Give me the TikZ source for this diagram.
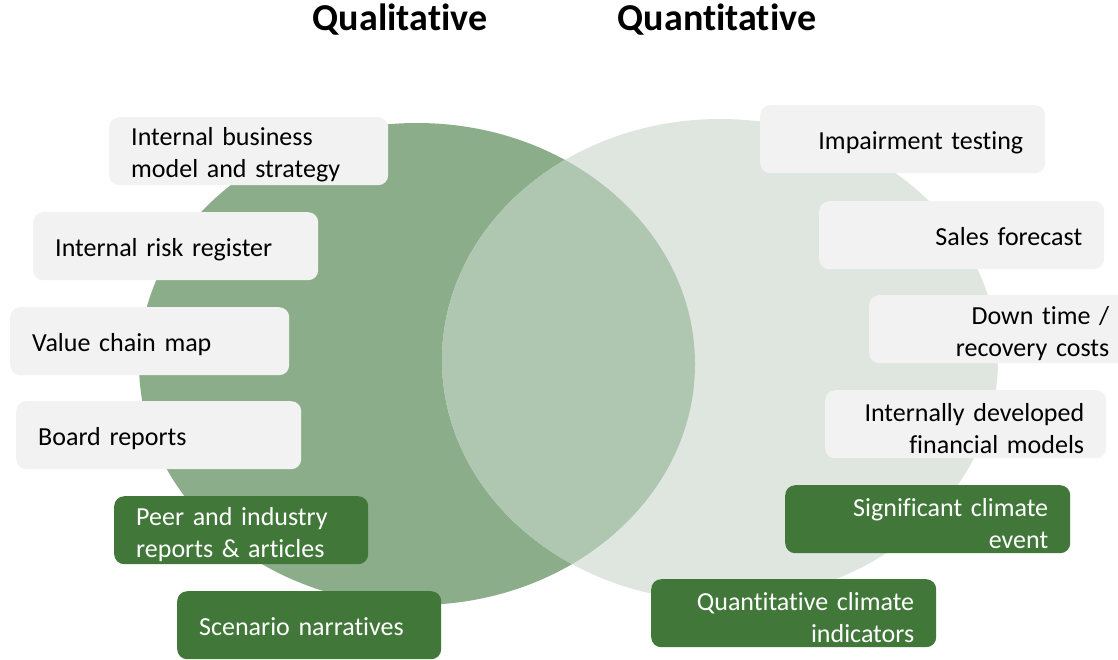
\documentclass[tikz,border=0pt]{standalone}
\usepackage{fontspec}
\setmainfont{Carlito}[Ligatures=NoCommon]
\definecolor{qualgreen}{HTML}{8CAD8A}
\definecolor{quantgrey}{HTML}{DFE6E0}
\definecolor{bothgreen}{HTML}{AFC6B0}
\definecolor{cardgrey}{HTML}{F2F2F2}
\definecolor{carddark}{HTML}{41783A}
\begin{document}
\begin{tikzpicture}[x=1pt,y=-1pt,
  card/.style={rounded corners=10pt,minimum height=68pt,inner xsep=22pt,
    inner ysep=0pt,anchor=north west,font=\fontsize{26}{32}\selectfont,
    text height=26pt},
  greycard/.style={card,fill=cardgrey,text=black},
  darkcard/.style={card,fill=carddark,text=white},
  heading/.style={font=\fontsize{38}{42}\selectfont\bfseries}]
\useasboundingbox (0,0) rectangle (1118,659);

\fill[qualgreen] (417,364) ellipse (278pt and 241pt);
\fill[quantgrey] (720,360) ellipse (278pt and 241pt);
\begin{scope}
\clip (417,364) ellipse (278pt and 241pt);
\fill[bothgreen] (720,360) ellipse (278pt and 241pt);
\end{scope}

\node[heading] (qual) at (400,20) {Qualitative};
\node[heading] (quant) at (717,20) {Quantitative};

\node[greycard,text width=235pt,align=left] (biz) at (109,117) {Internal business\\model and strategy};
\node[greycard,text width=241pt,align=left,text depth=6pt] (risk) at (33,212) {Internal risk register};
\node[greycard,text width=235pt,align=left,text depth=6pt] (chain) at (10,307) {Value chain map};
\node[greycard,text width=241pt,align=left,text depth=6pt] (board) at (16,401) {Board reports};
\node[darkcard,text width=210pt,align=left] (peer) at (114,496) {Peer and industry\\reports \& articles};
\node[darkcard,text width=220pt,align=left,text depth=6pt] (scen) at (177,591) {Scenario narratives};

\node[greycard,text width=241pt,align=right,text depth=6pt] (impair) at (760,105) {Impairment testing};
\node[greycard,text width=241pt,align=right,text depth=6pt] (sales) at (819,201) {Sales forecast};
\node[greycard,text width=218pt,align=right] (downtime) at (869,295) {Down time /\\recovery costs};
\node[greycard,text width=237pt,align=right] (finmod) at (825,390) {Internally developed\\financial models};
\node[darkcard,text width=241pt,align=right] (event) at (785,485) {Significant climate\\event};
\node[darkcard,text width=241pt,align=right] (indic) at (651,579) {Quantitative climate\\indicators};

\end{tikzpicture}
\end{document}
